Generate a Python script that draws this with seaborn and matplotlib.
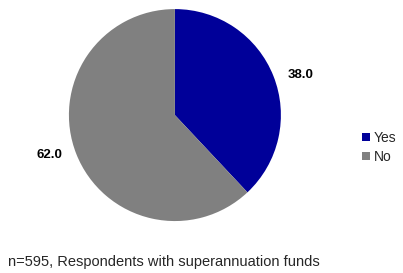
import matplotlib
matplotlib.use("Agg")
import matplotlib.pyplot as plt
import seaborn as sns
import numpy as np
from matplotlib.patches import Patch

categories = ["Yes", "No"]
values = [38.0, 62.0]
colors = ["#000099", "#808080"]
footnote = "n=595, Respondents with superannuation funds"

sns.set_style("white")
plt.rcParams['font.family'] = ['Liberation Sans', 'DejaVu Sans']

fig = plt.figure(figsize=(4.03, 2.73), dpi=100)
ax = fig.add_axes([0.171, 0.190, 0.526, 0.777])
wedges, _ = ax.pie(values, colors=colors, startangle=90, counterclock=False,
                   wedgeprops=dict(linewidth=0))
for w, v in zip(wedges, values):
    mid = np.deg2rad((w.theta1 + w.theta2) / 2 - 4)
    ax.text(1.24 * np.cos(mid), 1.24 * np.sin(mid), f"{v:.1f}", ha='center', va='center',
            fontsize=9.5, fontweight='bold', color='black')
ax.set_xlim(-1, 1)
ax.set_ylim(-1, 1)
ax.set_aspect('equal')

handles = [Patch(facecolor=c, edgecolor='none', label=l) for c, l in zip(colors, categories)]
fig.legend(handles=handles, loc='center left', bbox_to_anchor=(0.885, 0.46),
           frameon=False, fontsize=10, handlelength=0.55, handleheight=0.55,
           handletextpad=0.3, labelspacing=0.4, borderaxespad=0)

fig.text(0.02, 0.04, footnote, fontsize=10.5, ha='left', va='center')
fig.savefig("out.png", dpi=100)
